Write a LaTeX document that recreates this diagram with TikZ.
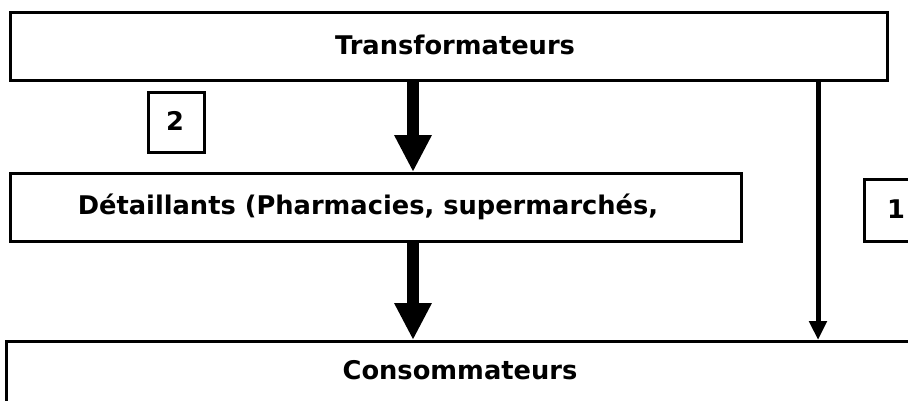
\documentclass[tikz,border=0pt]{standalone}
\usepackage{fontspec}
\setmainfont{DejaVu Sans}
\usetikzlibrary{arrows.meta}
\begin{document}
\begin{tikzpicture}[x=1pt,y=-1pt,
  box/.style={draw, line width=2.6pt, fill=white, inner sep=0pt, anchor=north west},
  label/.style={font=\bfseries\fontsize{25.7}{30}\selectfont, inner sep=0pt},
  bigarrow/.style={line width=12pt, -{Triangle[width=35pt,length=37pt]}},
  thinarrow/.style={line width=5pt, -{Triangle[width=17pt,length=19pt]}}]
\useasboundingbox (0,0) rectangle (908,400);
\clip (0,0) rectangle (908,400);
% the three levels of the chain
\node[box, minimum width=877pt, minimum height=68pt] (trans) at (9,11) {};
\node[label] at (455,45) {Transformateurs};
\node[box, minimum width=731pt, minimum height=68pt] (det) at (9,172) {};
\node[label] at (368,207) {Détaillants (Pharmacies, supermarchés,};
\node[box, minimum width=920pt, minimum height=90pt] (cons) at (5,340) {};
\node[label] at (460,370) {Consommateurs};
% channel numbers
\node[box, minimum width=56pt, minimum height=60pt] (t2) at (147,91) {};
\node[label] at (175,121) {2};
\node[box, minimum width=60pt, minimum height=62pt] (t1) at (863,178) {};
\node[label] at (896,209) {1};
% flows
\coordinate (longx) at (413,0);
\coordinate (directx) at (818,0);
\draw[bigarrow] (longx |- trans.south) -- (longx |- det.north);
\draw[bigarrow] (longx |- det.south) -- (longx |- cons.north);
\draw[thinarrow] (directx |- trans.south) -- (directx |- cons.north);
\end{tikzpicture}
\end{document}
